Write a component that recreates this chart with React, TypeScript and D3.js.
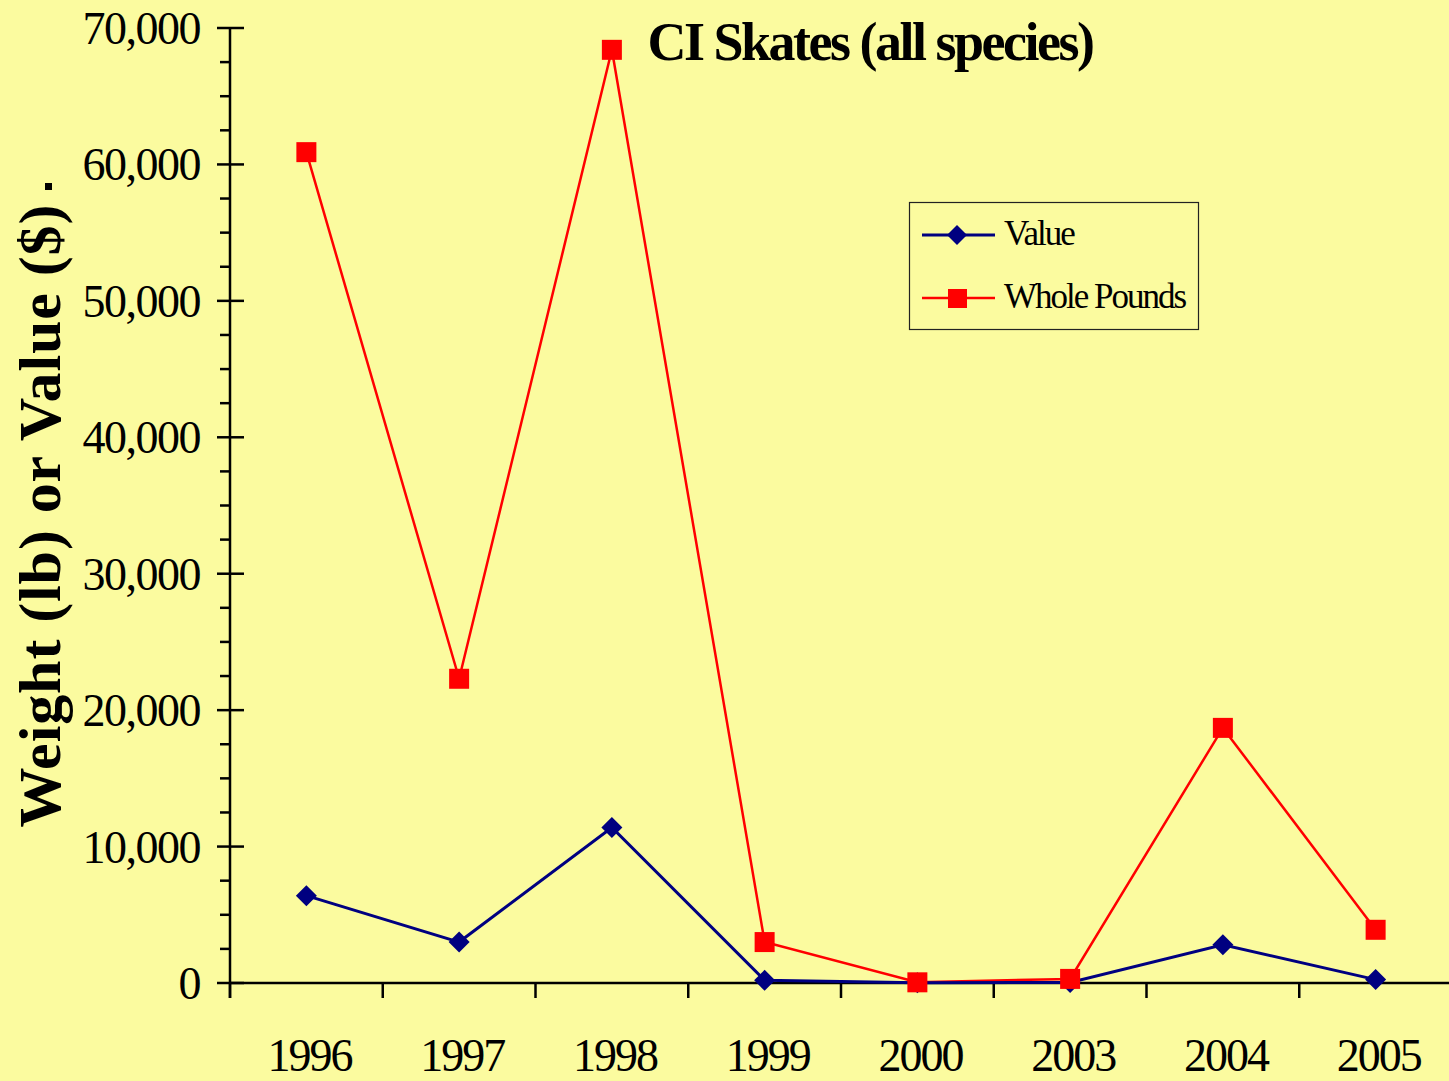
import React from "react";
import * as d3 from "d3";

const years = ["1996", "1997", "1998", "1999", "2000", "2003", "2004", "2005"];
const wholePounds = [60900, 22300, 68400, 3000, 50, 300, 18700, 3900];
const valueDollars = [6400, 3000, 11400, 200, 20, 40, 2800, 250];
const yTicks = [0, 10000, 20000, 30000, 40000, 50000, 60000, 70000];
const title = "CI Skates (all species)";
const yLabel = "Weight (lb) or Value ($)";

const W = 1449, H = 1081;
const BG = "#FBFB9F";
const FONT = "'Liberation Serif', 'Times New Roman', serif";

export default function App() {
  const x = d3.scaleBand<string>().domain(years).range([230, 1452]);
  const y = d3.scaleLinear().domain([0, 70000]).range([983, 28]);
  const minor = d3.range(0, 70001, 2500);
  const line = d3.line<number>()
    .x((_, i) => (x(years[i]) as number) + x.bandwidth() / 2)
    .y((d) => y(d));
  const cx = (i: number) => (x(years[i]) as number) + x.bandwidth() / 2;
  const diamond = (px: number, py: number, r: number) =>
    `M${px},${py - r}L${px + r},${py}L${px},${py + r}L${px - r},${py}Z`;

  return (
    <svg width={W} height={H} style={{ position: "absolute", left: 0, top: 0 }} fontFamily={FONT}>
      <rect x={0} y={0} width={W} height={H} fill={BG} />
      {/* y axis */}
      <line x1={230} x2={230} y1={y(70000)} y2={998} stroke="#000" strokeWidth={2.5} />
      {minor.map((v) => {
        const major = v % 10000 === 0;
        return (
          <line key={v} x1={major ? 217 : 220} x2={major ? 244 : 230} y1={y(v)} y2={y(v)} stroke="#000" strokeWidth={2.5} />
        );
      })}
      {yTicks.map((v) => (
        <text key={v} x={200} y={y(v) + 16} textAnchor="end" fontSize={46} letterSpacing={-1.5} fill="#000">
          {d3.format(",")(v)}
        </text>
      ))}
      {/* x axis */}
      <line x1={230} x2={W} y1={983} y2={983} stroke="#000" strokeWidth={2.5} />
      {years.map((yr) => (
        <line key={yr} x1={x(yr) as number} x2={x(yr) as number} y1={983} y2={998} stroke="#000" strokeWidth={2.5} />
      ))}
      {years.map((yr) => (
        <text key={yr} x={(x(yr) as number) + x.bandwidth() / 2 + 3} y={1071} textAnchor="middle" fontSize={46} letterSpacing={-2} fill="#000">
          {yr}
        </text>
      ))}
      {/* series */}
      <path d={line(wholePounds) || ""} fill="none" stroke="#FF0000" strokeWidth={2.5} />
      <path d={line(valueDollars) || ""} fill="none" stroke="#000080" strokeWidth={3} />
      {valueDollars.map((v, i) => (
        <path key={"v" + i} d={diamond(cx(i), y(v), 10.5)} fill="#000080" />
      ))}
      {wholePounds.map((v, i) => (
        <rect key={"w" + i} x={cx(i) - 10} y={y(v) - 10} width={20} height={20} fill="#FF0000" />
      ))}
      {/* title */}
      <text x={870} y={60} textAnchor="middle" fontSize={54} fontWeight="bold" letterSpacing={-2.5} fill="#000">
        {title}
      </text>
      {/* y label */}
      <text transform="translate(60,516) rotate(-90)" textAnchor="middle" fontSize={60} fontWeight="bold"
        textLength={623} lengthAdjust="spacing" fill="#000">
        {yLabel}
      </text>
      <rect x={45} y={183} width={7} height={7} fill="#000" />
      {/* legend */}
      <rect x={909.5} y={202.5} width={289} height={127} fill="none" stroke="#222" strokeWidth={1.2} />
      <line x1={922} x2={995} y1={235} y2={235} stroke="#000080" strokeWidth={3} />
      <path d={diamond(957, 235, 10)} fill="#000080" />
      <text x={1004} y={245} fontSize={35} letterSpacing={-2} fill="#000">Value</text>
      <line x1={922} x2={995} y1={298} y2={298} stroke="#FF0000" strokeWidth={2.5} />
      <rect x={948} y={289} width={19} height={19} fill="#FF0000" />
      <text x={1004} y={308} fontSize={35} letterSpacing={-2} fill="#000">Whole Pounds</text>
    </svg>
  );
}
